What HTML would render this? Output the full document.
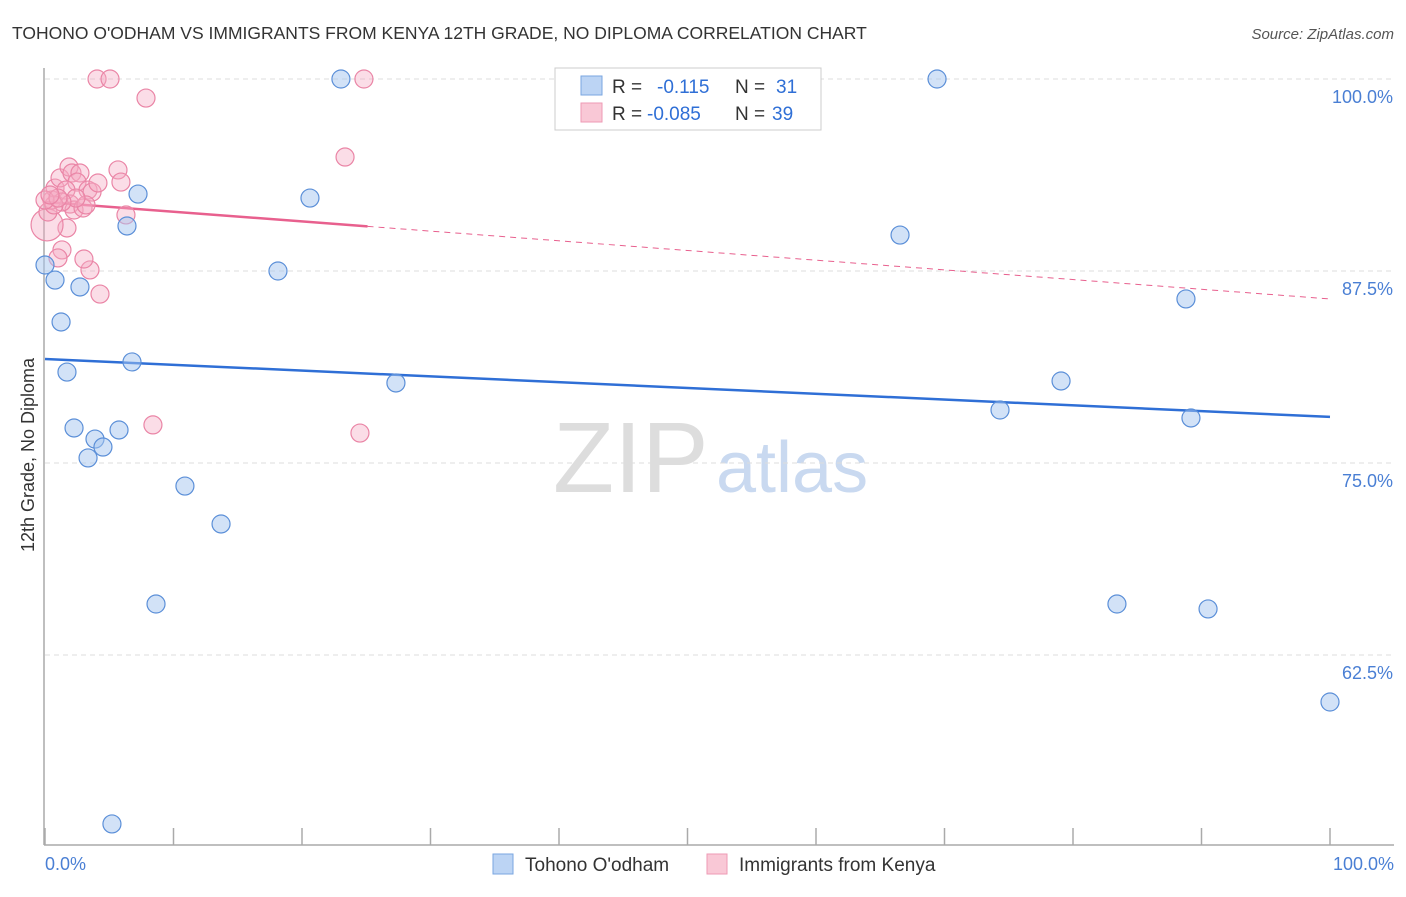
<!DOCTYPE html>
<html><head><meta charset="utf-8"><style>
body{margin:0;background:#fff;font-family:"Liberation Sans",sans-serif;}
svg text{font-family:"Liberation Sans",sans-serif;}
</style></head><body>
<svg id="chart" width="1406" height="892" viewBox="0 0 1406 892" xmlns="http://www.w3.org/2000/svg">
<text x="12" y="39" font-size="17.5" fill="#333">TOHONO O'ODHAM VS IMMIGRANTS FROM KENYA 12TH GRADE, NO DIPLOMA CORRELATION CHART</text>
<text x="1394" y="39" font-size="15" fill="#555" text-anchor="end" font-style="italic">Source: ZipAtlas.com</text>
<g>
<text x="553" y="492" font-size="100" font-family="Liberation Serif,serif" fill="#ddd">ZIP</text>
<text x="716" y="492" font-size="72" fill="#c9d9f0">atlas</text>
</g>
<g id="grid"></g>
<line x1="44" y1="68" x2="44" y2="845" stroke="#aaa" stroke-width="1.5"/>
<line x1="44" y1="845" x2="1394" y2="845" stroke="#aaa" stroke-width="1.5"/>
<g id="xticks"></g>
<text transform="translate(34,455) rotate(-90)" font-size="18" fill="#333" text-anchor="middle">12th Grade, No Diploma</text>
<text x="45" y="870" font-size="18" fill="#4a7fd4">0.0%</text>
<text x="1394" y="870" font-size="18" fill="#4a7fd4" text-anchor="end">100.0%</text>
<g id="lines"></g>
<g id="points"></g>
<g>
<rect x="555" y="68" width="266" height="62" fill="#fff" stroke="#ccc"/>
<rect x="581" y="76" width="21" height="19" fill="#bcd4f4" stroke="#7aa6e0"/>
<rect x="581" y="103" width="21" height="19" fill="#f9c8d6" stroke="#ee9ab4"/>
<text x="612" y="93" font-size="19" fill="#333">R =</text>
<text x="657" y="93" font-size="19" fill="#2f6fd6">-0.115</text>
<text x="735" y="93" font-size="19" fill="#333">N =</text>
<text x="776" y="93" font-size="19" fill="#2f6fd6">31</text>
<text x="612" y="120" font-size="19" fill="#333">R =</text>
<text x="647" y="120" font-size="19" fill="#2f6fd6">-0.085</text>
<text x="735" y="120" font-size="19" fill="#333">N =</text>
<text x="772" y="120" font-size="19" fill="#2f6fd6">39</text>
</g>
<g>
<rect x="493" y="854" width="20" height="20" fill="#bcd4f4" stroke="#7aa6e0"/>
<text x="525" y="871" font-size="19" fill="#333">Tohono O'odham</text>
<rect x="707" y="854" width="20" height="20" fill="#f9c8d6" stroke="#ee9ab4"/>
<text x="739" y="871" font-size="19" fill="#333">Immigrants from Kenya</text>
</g>
</svg>
<script>
const yTicks=[100,87.5,75,62.5];
const yTickLabels=["100.0%","87.5%","75.0%","62.5%"];
const xTickVals=[0,10,20,30,40,50,60,70,80,90,100];
const blueX=[0,0.78,1.25,1.71,2.26,2.72,3.35,3.89,4.51,5.21,5.76,6.38,6.77,7.24,8.64,10.89,13.7,18.13,20.62,23.03,27.31,47.63,66.54,69.42,74.32,79.07,83.42,88.79,89.18,90.51,100];
const blueY=[87.89,86.91,84.18,80.92,77.28,86.46,75.33,76.56,76.04,51.5,77.15,90.43,81.58,92.51,65.82,73.5,71.03,87.5,92.25,100,80.21,100,89.84,100,78.45,80.34,65.82,85.68,77.93,65.5,59.44];
const pinkX=[4.05,5.06,7.86,23.35,24.82,8.4,24.51,5.68,5.91,6.3,4.28,3.5,3.03,1.32,1.01,1.71,0.16,0.23,0.54,0.78,1.17,1.87,2.1,2.72,2.49,3.35,3.66,4.12,1.63,1.95,2.26,2.96,3.19,2.41,1.32,0.7,0,1.01,0.39];
const pinkY=[100,100,98.76,94.92,100,77.48,76.95,94.08,93.29,91.15,86,87.57,88.28,88.87,88.35,90.3,90.5,91.34,92.12,92.9,93.56,94.27,93.88,93.88,93.29,92.77,92.64,93.23,92.77,91.86,91.47,91.6,91.8,92.25,91.99,91.8,92.12,92.25,92.45];
const blueTrend=[81.77,78.0];
const pinkTrend=[91.99,85.68];
const pinkSolidEnd=25.1;
const NS="http://www.w3.org/2000/svg";
const sx=v=>45+v*12.85;
const sy=v=>79+(100-v)*15.36;
function mk(tag,attrs,parent){const e=document.createElementNS(NS,tag);for(const k in attrs)e.setAttribute(k,attrs[k]);parent.appendChild(e);return e;}
const grid=document.getElementById('grid');
yTicks.forEach((t,i)=>{
 const l=mk('line',{x1:45,x2:1394,y1:sy(t),y2:sy(t),stroke:'#ddd','stroke-dasharray':'5,4'},grid);
 
 
 const tx=mk('text',{x:1393,y:sy(t)+24,'font-size':18,fill:'#4a7fd4','text-anchor':'end'},grid);
 tx.textContent=yTickLabels[i];
 
 
});
const xt=document.getElementById('xticks');
xTickVals.forEach(v=>{
 const l=mk('line',{x1:sx(v),x2:sx(v),y1:828,y2:845,stroke:'#aaa','stroke-width':1.5},xt);
 
 
});
const lg=document.getElementById('lines');
const bl=mk('line',{x1:sx(0),y1:sy(blueTrend[0]),x2:sx(100),y2:sy(blueTrend[1]),stroke:'#2f6fd6','stroke-width':2.5},lg);


const pAt=x=>pinkTrend[0]+(pinkTrend[1]-pinkTrend[0])*x/100;
const ps=mk('line',{x1:sx(0),y1:sy(pAt(0)),x2:sx(pinkSolidEnd),y2:sy(pAt(pinkSolidEnd)),stroke:'#e8608e','stroke-width':2.5},lg);


const pd=mk('line',{x1:sx(pinkSolidEnd),y1:sy(pAt(pinkSolidEnd)),x2:sx(100),y2:sy(pAt(100)),stroke:'#e8608e','stroke-width':1,'stroke-dasharray':'6,5'},lg);


const pg=document.getElementById('points');
pinkX.forEach((x,i)=>{
 const c=mk('circle',{cx:sx(x),cy:sy(pinkY[i]),r:(i==16?16:9),fill:'rgba(246,170,195,0.4)',stroke:'#ea85a6','stroke-width':1.2},pg);
 
 
});
blueX.forEach((x,i)=>{
 const c=mk('circle',{cx:sx(x),cy:sy(blueY[i]),r:9,fill:'rgba(165,198,240,0.5)',stroke:'#5b8fd8','stroke-width':1.2},pg);
 
 
});
</script>
</body></html>
